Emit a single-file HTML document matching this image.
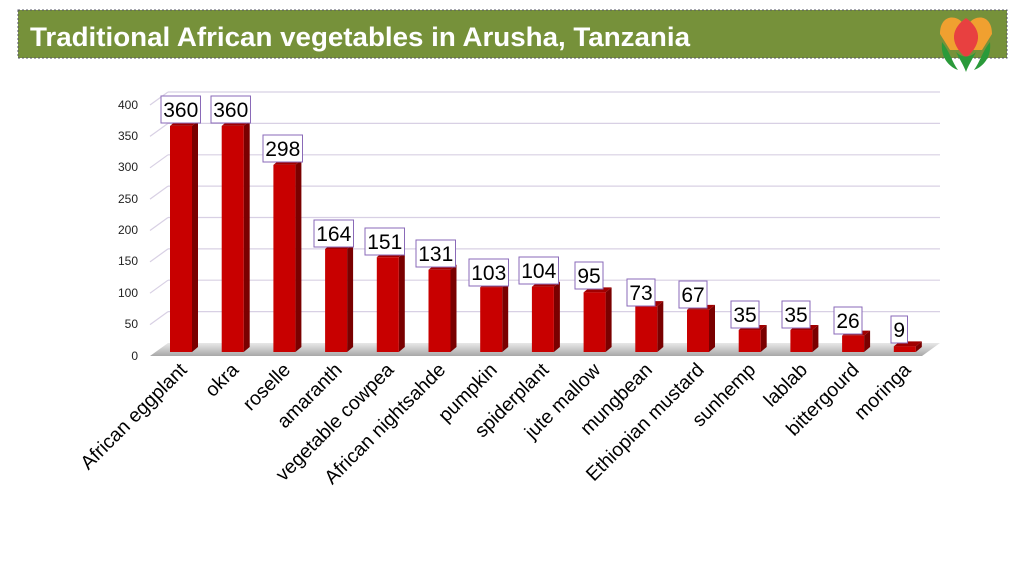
<!DOCTYPE html>
<html><head><meta charset="utf-8"><style>
body{margin:0;background:#fff;width:1024px;height:576px;overflow:hidden;font-family:"Liberation Sans",Arial,sans-serif}
</style></head><body>
<svg width="1024" height="576" viewBox="0 0 1024 576" xmlns="http://www.w3.org/2000/svg" font-family="Liberation Sans, Arial, sans-serif">
<defs>
<linearGradient id="fl" x1="0" y1="0" x2="0" y2="1"><stop offset="0" stop-color="#e8e8e8"/><stop offset="1" stop-color="#a8a8a8"/></linearGradient>
</defs>
<rect x="18" y="10" width="989" height="48" fill="#76913a" stroke="#556" stroke-dasharray="2,2" stroke-width="1"/>
<text x="30" y="46" fill="#fff" font-size="27" font-weight="bold" textLength="660" lengthAdjust="spacingAndGlyphs">Traditional African vegetables in Arusha, Tanzania</text>
<g transform="translate(966,42)">
<path d="M-26,-8 C-26,-26 -12,-28 -4,-20 L0,-16 L4,-20 C12,-28 26,-26 26,-8 L16,8 L-16,8 Z" fill="#f0a030"/>
<path d="M0,-24 C14,-14 18,0 0,16 C-18,0 -14,-14 0,-24 Z" fill="#e84040"/>
<path d="M-24,0 C-26,18 -14,26 -8,28 C-14,20 -16,10 -24,0Z M24,0 C26,18 14,26 8,28 C14,20 16,10 24,0Z M-10,10 C-6,18 -2,24 0,30 C2,24 6,18 10,10 C4,16 -4,16 -10,10Z" fill="#2a9a3a"/>
</g>
<g stroke="#d8d0e4" stroke-width="1.2" fill="none">
<path d="M168,92H940M168,123.4H940M168,154.8H940M168,186.1H940M168,217.5H940M168,248.9H940M168,280.2H940M168,311.6H940"/>
<path d="M150,105L168,92M150,136.4L168,123.4M150,167.8L168,154.8M150,199.1L168,186.1M150,230.5L168,217.5M150,261.9L168,248.9M150,293.2L168,280.2M150,324.6L168,311.6"/>
</g>
<polygon points="150,356 168,343 940,343 922,356" fill="url(#fl)"/>
<g font-size="12" fill="#222" text-anchor="end">
<text x="138" y="109">400</text><text x="138" y="140">350</text><text x="138" y="171">300</text><text x="138" y="203">250</text><text x="138" y="234">200</text><text x="138" y="265">150</text><text x="138" y="297">100</text><text x="138" y="328">50</text><text x="138" y="360">0</text>
</g>
<g id="bars"></g>
<g id="labs" font-size="21" fill="#000"></g>
<g id="xl" font-size="19.5" fill="#000" text-anchor="end"></g>
</svg>
<script>
var v=[360,360,298,164,151,131,103,104,95,73,67,35,35,26,9];
var n=["African eggplant","okra","roselle","amaranth","vegetable cowpea","African nightsahde","pumpkin","spiderplant","jute mallow","mungbean","Ethiopian mustard","sunhemp","lablab","bittergourd","moringa"];
var bx=[[161,96],[211,96],[263,135],[314,220],[365,228],[416,240],[469,259],[519,257],[575,262],[627,279],[679,281],[731,301],[782,301],[834,307],[891,316]];
var bs="",ls="",xs="";
for(var i=0;i<15;i++){
 var c=181+i*51.7,L=c-11,R=c+11,bot=352,tp=bot-v[i]*0.628;
 bs+='<polygon points="'+R+','+bot+' '+(R+6)+','+(bot-5)+' '+(R+6)+','+(tp-5)+' '+R+','+tp+'" fill="#7a0000"/>';
 bs+='<polygon points="'+L+','+tp+' '+(L+6)+','+(tp-5)+' '+(R+6)+','+(tp-5)+' '+R+','+tp+'" fill="#a00000"/>';
 bs+='<rect x="'+L+'" y="'+tp+'" width="22" height="'+(bot-tp)+'" fill="#c80000"/>';
 var s=String(v[i]),w=s.length*11.5+5;
 ls+='<rect x="'+bx[i][0]+'" y="'+bx[i][1]+'" width="'+w+'" height="27" fill="#fff" stroke="#8a6ab8" stroke-width="1"/>';
 ls+='<text x="'+(bx[i][0]+w/2)+'" y="'+(bx[i][1]+21)+'" text-anchor="middle">'+s+'</text>';
 xs+='<text transform="translate('+(c+7)+',371) rotate(-45)">'+n[i]+'</text>';
}
document.getElementById("bars").innerHTML=bs;
document.getElementById("labs").innerHTML=ls;
document.getElementById("xl").innerHTML=xs;
</script>
</body></html>
